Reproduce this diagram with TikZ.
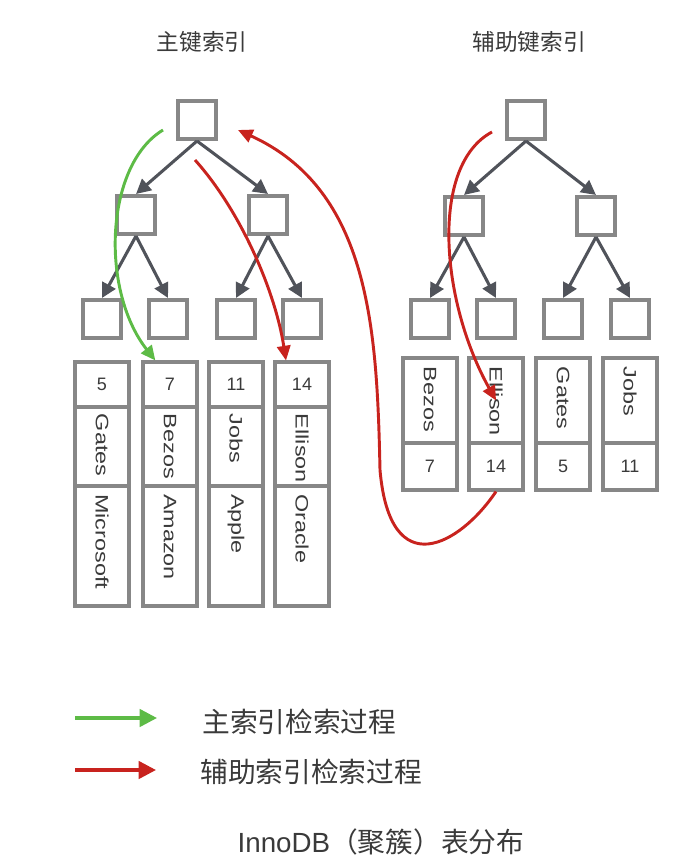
\documentclass[tikz,border=0pt]{standalone}
\usepackage{fontspec}
\setmainfont{Liberation Sans}
\newfontfamily\cjk{Noto Sans CJK SC}
\usepackage{tikz}
\usetikzlibrary{arrows.meta}

\definecolor{boxgray}{HTML}{878787}
\definecolor{arrgray}{HTML}{50535A}
\definecolor{pathred}{HTML}{C8231E}
\definecolor{pathgreen}{HTML}{5DBB46}
\definecolor{txt}{HTML}{3A3A3A}

\begin{document}
\begin{tikzpicture}[x=0.75pt, y=-0.75pt,
    box/.style={draw=boxgray, line width=3pt, fill=white, minimum size=28.5pt, inner sep=0pt},
    cell/.style={draw=boxgray, line width=2.3pt, minimum width=40.5pt, inner sep=0pt, text=txt, font=\fontsize{13.5}{15}\selectfont},
    vtext/.style={rotate=-90, xscale=1.3, anchor=west, inner sep=0pt, text=txt, font=\fontsize{13.5}{15}\selectfont},
    edge/.style={draw=arrgray, line width=2.3pt, -{Triangle[length=11pt,width=11pt]}},
    redpath/.style={draw=pathred, line width=2.2pt, -{Triangle[length=11pt,width=10pt]}},
    greenpath/.style={draw=pathgreen, line width=2.2pt, -{Triangle[length=11pt,width=10pt]}},
    title/.style={text=txt, font=\fontsize{17}{20}\selectfont\cjk},
    legend/.style={anchor=west, inner sep=0pt, text=txt, font=\fontsize{20.8}{24}\selectfont\cjk}]
    \useasboundingbox (0,0) rectangle (672,864);

    \node[title] (tp) at (202,42) {主键索引};
    \node[title] (ts) at (529,42) {辅助键索引};

    % primary key tree
    \node[box] (pr) at (197,120) {};
    \node[box] (pa) at (136,215) {};
    \node[box] (pb) at (268,215) {};
    \node[box] (pa1) at (102,319) {};
    \node[box] (pa2) at (168,319) {};
    \node[box] (pb1) at (236,319) {};
    \node[box] (pb2) at (302,319) {};
    \draw[edge] (pr.south) -- (pa.north);
    \draw[edge] (pr.south) -- (pb.north);
    \draw[edge] (pa.south) -- (pa1.north);
    \draw[edge] (pa.south) -- (pa2.north);
    \draw[edge] (pb.south) -- (pb1.north);
    \draw[edge] (pb.south) -- (pb2.north);

    \node[cell, minimum height=33.75pt] (k1a) at (102,384.5) {5};
    \node[cell, minimum height=59.25pt] (k1b) at (102,446.5) {};
    \node[cell, minimum height=90pt] (k1c) at (102,546) {};
    \node[vtext] (k1bt) at ([yshift=-6pt]k1b.north) {Gates};
    \node[vtext] (k1ct) at ([yshift=-7pt]k1c.north) {Microsoft};

    \node[cell, minimum height=33.75pt] (k2a) at (170,384.5) {7};
    \node[cell, minimum height=59.25pt] (k2b) at (170,446.5) {};
    \node[cell, minimum height=90pt] (k2c) at (170,546) {};
    \node[vtext] (k2bt) at ([yshift=-6pt]k2b.north) {Bezos};
    \node[vtext] (k2ct) at ([yshift=-7pt]k2c.north) {Amazon};

    \node[cell, minimum height=33.75pt] (k3a) at (236,384.5) {11};
    \node[cell, minimum height=59.25pt] (k3b) at (236,446.5) {};
    \node[cell, minimum height=90pt] (k3c) at (236,546) {};
    \node[vtext] (k3bt) at ([yshift=-6pt]k3b.north) {Jobs};
    \node[vtext] (k3ct) at ([yshift=-7pt]k3c.north) {Apple};

    \node[cell, minimum height=33.75pt] (k4a) at (302,384.5) {14};
    \node[cell, minimum height=59.25pt] (k4b) at (302,446.5) {};
    \node[cell, minimum height=90pt] (k4c) at (302,546) {};
    \node[vtext] (k4bt) at ([yshift=-6pt]k4b.north) {Ellison};
    \node[vtext] (k4ct) at ([yshift=-7pt]k4c.north) {Oracle};

    % secondary key tree
    \node[box] (sr) at (526,120) {};
    \node[box] (sa) at (464,216) {};
    \node[box] (sb) at (596,216) {};
    \node[box] (sa1) at (430,319) {};
    \node[box] (sa2) at (496,319) {};
    \node[box] (sb1) at (563,319) {};
    \node[box] (sb2) at (630,319) {};
    \draw[edge] (sr.south) -- (sa.north);
    \draw[edge] (sr.south) -- (sb.north);
    \draw[edge] (sa.south) -- (sa1.north);
    \draw[edge] (sa.south) -- (sa2.north);
    \draw[edge] (sb.south) -- (sb1.north);
    \draw[edge] (sb.south) -- (sb2.north);

    \node[cell, minimum height=63.75pt] (m1a) at (430,400.5) {};
    \node[cell, minimum height=35.25pt] (m1b) at (430,466.5) {7};
    \node[vtext] (m1t) at ([yshift=-7.5pt]m1a.north) {Bezos};
    \node[cell, minimum height=63.75pt] (m2a) at (496,400.5) {};
    \node[cell, minimum height=35.25pt] (m2b) at (496,466.5) {14};
    \node[vtext] (m2t) at ([yshift=-7.5pt]m2a.north) {Ellison};
    \node[cell, minimum height=63.75pt] (m3a) at (563,400.5) {};
    \node[cell, minimum height=35.25pt] (m3b) at (563,466.5) {5};
    \node[vtext] (m3t) at ([yshift=-7.5pt]m3a.north) {Gates};
    \node[cell, minimum height=63.75pt] (m4a) at (630,400.5) {};
    \node[cell, minimum height=35.25pt] (m4b) at (630,466.5) {11};
    \node[vtext] (m4t) at ([yshift=-7.5pt]m4a.north) {Jobs};

    % search paths
    \coordinate (g0) at (163,130);
    \coordinate (r0) at (195,160);
    \coordinate (s0) at (492,132);
    \coordinate (e1) at (238,130);
    \draw[greenpath] (g0) .. controls (105,165) and (100,290) .. ([xshift=-11pt]k2a.north);
    \draw[redpath] (r0) .. controls (240,210) and (275,290) .. ([xshift=-12pt]k4a.north);
    \draw[redpath] (s0) .. controls (430,165) and (440,300) .. (m2a.center);
    \draw[redpath] (m2b.south) .. controls (460,545) and (390,585) .. (380,470)
        .. controls (377,330) and (370,190) .. (e1);

    % legend
    \coordinate (ga) at (75,718);
    \coordinate (gb) at (157,718);
    \coordinate (ra) at (75,770);
    \coordinate (rb) at (156,770);
    \draw[draw=pathgreen, line width=2.6pt, -{Triangle[length=13pt,width=13pt]}] (ga) -- (gb);
    \draw[draw=pathred, line width=2.6pt, -{Triangle[length=13pt,width=13pt]}] (ra) -- (rb);
    \node[legend] (lg) at (202,722) {主索引检索过程};
    \node[legend] (lr) at (200,772) {辅助索引检索过程};

    \node[text=txt, font=\fontsize{20.8}{24}\selectfont] (cap) at (381,842) {InnoDB{\cjk（聚簇）表分布}};
\end{tikzpicture}
\end{document}
